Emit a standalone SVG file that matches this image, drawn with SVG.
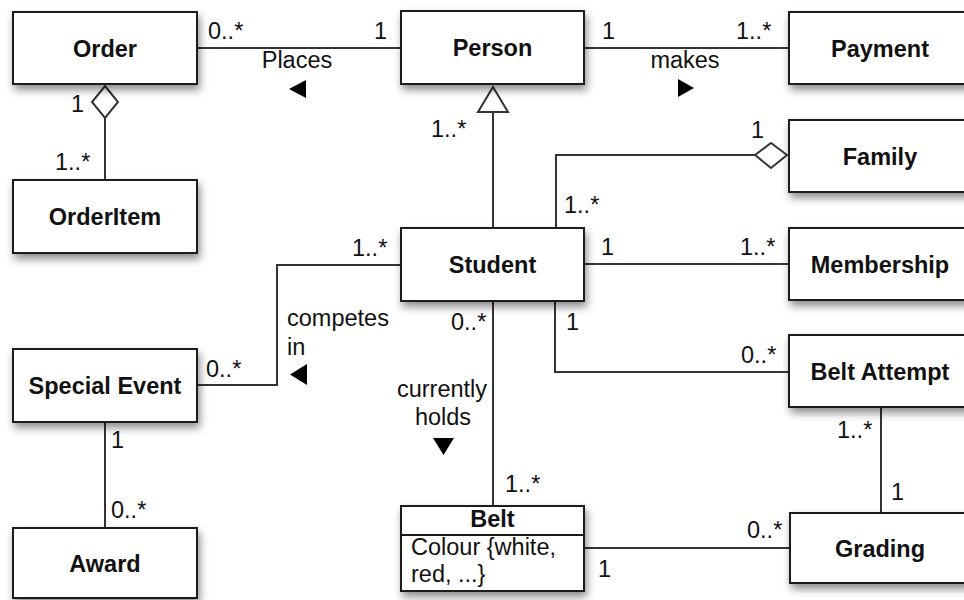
<svg xmlns="http://www.w3.org/2000/svg" width="964" height="600" viewBox="0 0 964 600">
<defs>
<filter id="sh" x="-20%" y="-20%" width="140%" height="150%">
<feDropShadow dx="2" dy="5" stdDeviation="4" flood-color="#000" flood-opacity="0.45"/>
</filter>
<style>
.box{fill:#fff;stroke:#1a1a1a;stroke-width:2}
.nm{font-family:"Liberation Sans",Arial,Helvetica,sans-serif;font-size:23.5px;font-weight:bold;fill:#111;text-anchor:middle}
.t{font-family:"Liberation Sans",Arial,Helvetica,sans-serif;font-size:23.5px;fill:#111}
.c{text-anchor:middle}
.e{text-anchor:end}
.ln{fill:none;stroke:#333;stroke-width:2}
.hol{fill:#fff;stroke:#333;stroke-width:2}
.tri{fill:#000}
</style>
</defs>
<rect width="964" height="600" fill="#fff"/>

<g id="connectors">
<!-- Order - Person -->
<line class="ln" x1="197" y1="48" x2="401" y2="48"/>
<text class="t" x="208" y="39">0..*</text>
<text class="t e" x="387" y="39">1</text>
<text class="t c" x="297" y="68">Places</text>
<polygon class="tri" points="306,80 289,89 306,98"/>
<!-- Person - Payment -->
<line class="ln" x1="584" y1="48" x2="789" y2="48"/>
<text class="t" x="602" y="39">1</text>
<text class="t" x="736" y="39">1..*</text>
<text class="t c" x="685" y="68">makes</text>
<polygon class="tri" points="678,79 694,88 678,97"/>
<!-- Order - OrderItem aggregation -->
<line class="ln" x1="105" y1="118" x2="105" y2="180"/>
<polygon class="hol" points="105,86 118,102 105,118 92,102"/>
<text class="t" x="71" y="112">1</text>
<text class="t" x="55" y="170">1..*</text>
<!-- Student - Person generalization -->
<line class="ln" x1="493" y1="112" x2="493" y2="228"/>
<polygon class="hol" points="493,87 508,112 478,112"/>
<text class="t" x="431" y="137">1..*</text>
<!-- Student - Family aggregation -->
<polyline class="ln" points="556,228 556,155 755,155"/>
<polygon class="hol" points="755,155 771,143 787,155 771,168"/>
<text class="t" x="751" y="138">1</text>
<text class="t" x="564" y="213">1..*</text>
<!-- Student - Membership -->
<line class="ln" x1="584" y1="264" x2="789" y2="264"/>
<text class="t" x="601" y="255">1</text>
<text class="t" x="740" y="255">1..*</text>
<!-- Student - Belt Attempt -->
<polyline class="ln" points="555,301 555,372 789,372"/>
<text class="t" x="566" y="330">1</text>
<text class="t" x="741" y="363">0..*</text>
<!-- Student - Belt -->
<line class="ln" x1="493" y1="301" x2="493" y2="506"/>
<text class="t" x="451" y="330">0..*</text>
<text class="t" x="505" y="492">1..*</text>
<text class="t c" x="442" y="397">currently</text>
<text class="t c" x="443" y="425">holds</text>
<polygon class="tri" points="433,438 454,438 443.5,455"/>
<!-- Student - Special Event -->
<polyline class="ln" points="401,265 277,265 277,385 196,385"/>
<text class="t" x="352" y="256">1..*</text>
<text class="t" x="206" y="377">0..*</text>
<text class="t" x="287" y="326">competes</text>
<text class="t" x="287" y="355">in</text>
<polygon class="tri" points="307,364 290,374.5 307,385"/>
<!-- Special Event - Award -->
<line class="ln" x1="105" y1="422" x2="105" y2="528"/>
<text class="t" x="111" y="448">1</text>
<text class="t" x="111" y="518">0..*</text>
<!-- Belt Attempt - Grading -->
<line class="ln" x1="881" y1="407" x2="881" y2="513"/>
<text class="t" x="837" y="438">1..*</text>
<text class="t" x="891" y="500">1</text>
<!-- Belt - Grading -->
<line class="ln" x1="584" y1="548" x2="790" y2="548"/>
<text class="t" x="747" y="538">0..*</text>
<text class="t" x="598" y="577">1</text>
</g>

<g id="order"><rect class="box" filter="url(#sh)" x="13" y="12" width="184" height="72"/><text class="nm" x="105" y="56.5">Order</text></g>
<g id="orderitem"><rect class="box" filter="url(#sh)" x="13" y="180" width="184" height="73"/><text class="nm" x="105" y="225">OrderItem</text></g>
<g id="person"><rect class="box" filter="url(#sh)" x="401" y="11" width="183" height="73"/><text class="nm" x="492.5" y="56">Person</text></g>
<g id="payment"><rect class="box" filter="url(#sh)" x="789" y="12" width="182" height="72"/><text class="nm" x="880" y="56.5">Payment</text></g>
<g id="family"><rect class="box" filter="url(#sh)" x="789" y="120" width="182" height="72"/><text class="nm" x="880" y="164.5">Family</text></g>
<g id="student"><rect class="box" filter="url(#sh)" x="401" y="228" width="183" height="73"/><text class="nm" x="492.5" y="273">Student</text></g>
<g id="membership"><rect class="box" filter="url(#sh)" x="789" y="228" width="182" height="72"/><text class="nm" x="880" y="272.5">Membership</text></g>
<g id="beltattempt"><rect class="box" filter="url(#sh)" x="789" y="335" width="182" height="72"/><text class="nm" x="880" y="380">Belt Attempt</text></g>
<g id="grading"><rect class="box" filter="url(#sh)" x="790" y="513" width="181" height="70"/><text class="nm" x="880" y="557">Grading</text></g>
<g id="specialevent"><rect class="box" filter="url(#sh)" x="13" y="349" width="184" height="73"/><text class="nm" x="105" y="394">Special Event</text></g>
<g id="award"><rect class="box" filter="url(#sh)" x="13" y="528" width="184" height="70"/><text class="nm" x="105" y="572">Award</text></g>
<g id="belt"><rect class="box" filter="url(#sh)" x="401" y="506" width="183" height="85"/><line x1="401" y1="535" x2="584" y2="535" stroke="#1a1a1a" stroke-width="2"/><text class="nm" x="492.5" y="527">Belt</text><text class="t" x="411" y="555">Colour {white,</text><text class="t" x="411" y="582">red, ...}</text></g>
</svg>
